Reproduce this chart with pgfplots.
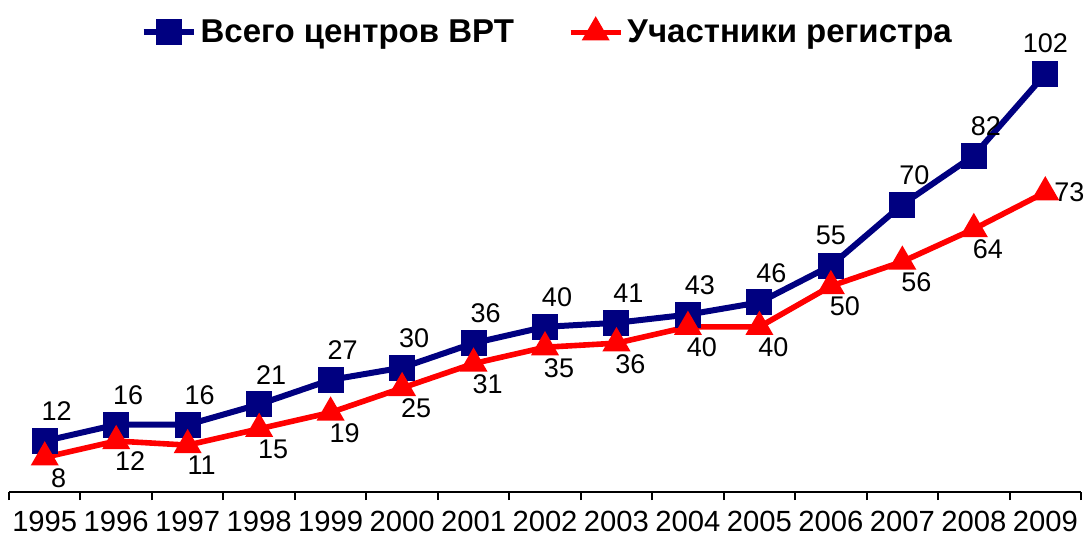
\documentclass[border=0pt]{standalone}
\usepackage{fontspec}
\setmainfont{Liberation Sans}
\usepackage{pgfplots}
\usepackage{pgfplotstable}
\pgfplotsset{compat=1.18}
\definecolor{navyb}{RGB}{0,0,128}
\pgfplotstableread{
x blue red
0 12 8
1 16 12
2 16 11
3 21 15
4 27 19
5 30 25
6 36 31
7 40 35
8 41 36
9 43 40
10 46 40
11 55 50
12 70 56
13 82 64
14 102 73
}\data
\begin{document}
\begin{tikzpicture}
\begin{axis}[
  at={(4.5pt,20pt)}, anchor=south west,
  scale only axis, width=536pt, height=225.3pt,
  xmin=-0.5, xmax=14.5, ymin=-0.5, ymax=110,
  axis x line=bottom, axis y line=none,
  axis line style={black, line width=1pt, -},
  xtick={0,...,14},
  xticklabels={1995,1996,1997,1998,1999,2000,2001,2002,2003,2004,2005,2006,2007,2008,2009},
  major tick length=0pt,
  minor xtick={-0.5,0.5,...,14.5},
  minor tick length=4pt, tick align=outside,
  minor tick style={black, line width=1pt},
  xticklabel style={font=\fontsize{14.6}{17}\selectfont, yshift=-6pt},
  /pgf/number format/assume math mode=true,
  clip=false,
  legend columns=2,
  legend style={at={(0.503,1.02)}, anchor=center, draw=none, fill=none,
    font=\bfseries\fontsize{16.5}{19}\selectfont,
    /tikz/every even column/.append style={column sep=25pt}},
  legend image code/.code={\draw[mark repeat=2, mark phase=2] plot coordinates {(0pt,0pt) (12.5pt,0pt) (25pt,0pt)};},
]
\addplot[navyb, line width=3pt, mark=square*, mark size=5pt, mark options={solid}] table[x=x,y=blue] {\data};
\addlegendentry{Всего центров ВРТ}
\addplot[red, line width=2.8pt, mark=triangle*, mark size=5.3pt, mark options={solid}] table[x=x,y=red] {\data};
\addlegendentry{Участники регистра}
% labels
\addplot[forget plot, only marks, mark=none, nodes near coords,
  x filter/.expression={(x==11 || x==14) ? nan : x},
  every node near coord/.append style={font=\fontsize{13.5}{16}\selectfont, text=black, anchor=south, xshift=6pt, yshift=6.5pt}]
  table[x=x,y=blue] {\data};
\addplot[forget plot, only marks, mark=none, nodes near coords,
  x filter/.expression={(x==11 || x==14) ? x : nan},
  every node near coord/.append style={font=\fontsize{13.5}{16}\selectfont, text=black, anchor=south, yshift=7pt}]
  table[x=x,y=blue] {\data};
\addplot[forget plot, only marks, mark=none, nodes near coords,
  x filter/.expression={(x==14) ? nan : x},
  every node near coord/.append style={font=\fontsize{13.5}{16}\selectfont, text=black, anchor=north, xshift=7pt, yshift=-2pt}]
  table[x=x,y=red] {\data};
\addplot[forget plot, only marks, mark=none, nodes near coords,
  x filter/.expression={(x==14) ? x : nan},
  every node near coord/.append style={font=\fontsize{13.5}{16}\selectfont, text=black, anchor=west, xshift=1pt}]
  table[x=x,y=red] {\data};
\end{axis}
\pgfresetboundingbox
\path (0,0) rectangle (542.5pt,266pt);
\end{tikzpicture}
\end{document}
